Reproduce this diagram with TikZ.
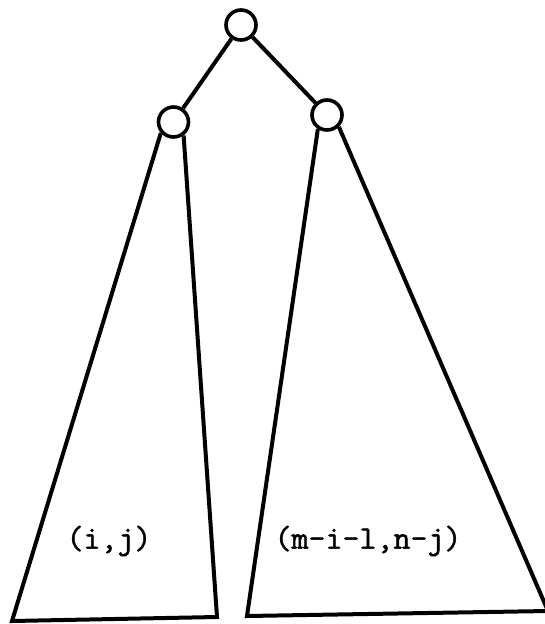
\documentclass[tikz,border=0pt]{standalone}
\usepackage{fontspec}
\newfontfamily\typew[FakeBold=1.5]{Latin Modern Mono}
\begin{document}
\begin{tikzpicture}[x=1pt,y=-1pt,
  vertex/.style={circle,draw,line width=3.6pt,minimum size=30pt,inner sep=0pt},
  edge/.style={line width=4pt},
  tri/.style={line width=4pt,line join=miter},
  lab/.style={font=\typew\fontsize{33}{33}\selectfont,inner sep=0pt}]
\useasboundingbox (0,0) rectangle (544,624);
\node[vertex] (r) at (241,25) {};
\node[vertex] (l) at (173.5,122) {};
\node[vertex] (rc) at (327,115) {};
\draw[edge] (r) -- (l);
\draw[edge] (r) -- (rc);
\coordinate (lbl) at (12,621);
\coordinate (lbr) at (217,617);
\coordinate (rbl) at (247,616);
\coordinate (rbr) at (548,611);
\draw[tri] (l.221) -- (lbl) -- (lbr) -- (l.307);
\draw[tri] (rc.237) -- (rbl) -- (rbr);
\draw[tri] (rc.315) -- (rbr);
\node[lab] (t1) at (109,541) {(i,j)};
\node[lab] (t2) at (368,541) {(m-i-l,n-j)};
\end{tikzpicture}
\end{document}
